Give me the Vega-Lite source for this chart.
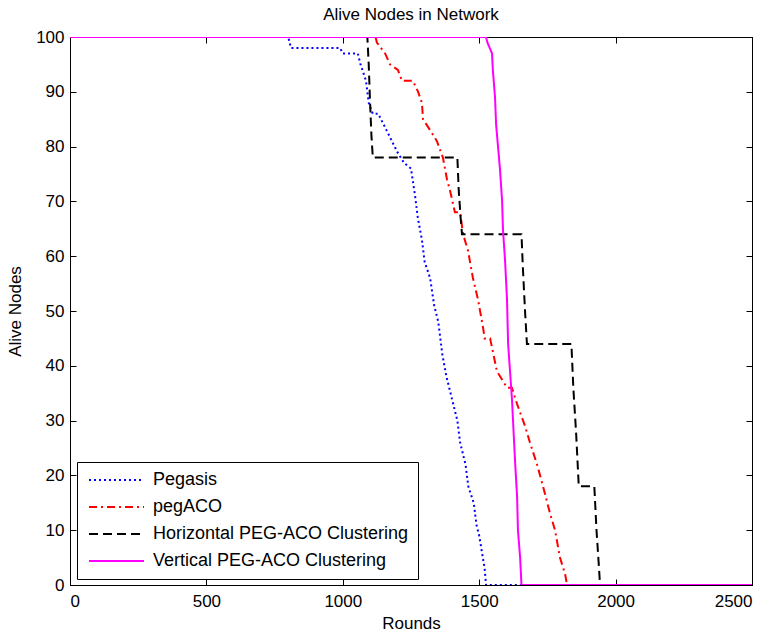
{
  "$schema": "https://vega.github.io/schema/vega-lite/v6.json",
  "width": 682,
  "height": 548,
  "autosize": {"type": "none"},
  "padding": {"left": 70, "top": 37, "right": 20, "bottom": 47},
  "background": "white",
  "title": {
    "text": "Alive Nodes in Network",
    "font": "Liberation Sans",
    "fontSize": 17,
    "fontWeight": "normal",
    "color": "black",
    "offset": 4
  },
  "config": {
    "view": {"stroke": "black", "strokeWidth": 1},
    "font": "Liberation Sans",
    "axis": {
      "grid": false,
      "domainColor": "black",
      "tickColor": "black",
      "tickSize": -6,
      "labelFont": "Liberation Sans",
      "labelFontSize": 17,
      "labelColor": "black",
      "titleFont": "Liberation Sans",
      "titleFontSize": 17,
      "titleFontWeight": "normal",
      "titleColor": "black"
    }
  },
  "datasets": {
    "nodes": [
      {"series": "Pegasis", "round": 0, "alive": 100},
      {"series": "Pegasis", "round": 800, "alive": 100},
      {"series": "Pegasis", "round": 810, "alive": 98},
      {"series": "Pegasis", "round": 990, "alive": 98},
      {"series": "Pegasis", "round": 1000, "alive": 97},
      {"series": "Pegasis", "round": 1055, "alive": 97},
      {"series": "Pegasis", "round": 1065, "alive": 95},
      {"series": "Pegasis", "round": 1085, "alive": 92},
      {"series": "Pegasis", "round": 1095, "alive": 88},
      {"series": "Pegasis", "round": 1110, "alive": 86},
      {"series": "Pegasis", "round": 1130, "alive": 86},
      {"series": "Pegasis", "round": 1160, "alive": 83},
      {"series": "Pegasis", "round": 1200, "alive": 79},
      {"series": "Pegasis", "round": 1225, "alive": 77},
      {"series": "Pegasis", "round": 1250, "alive": 76},
      {"series": "Pegasis", "round": 1265, "alive": 71},
      {"series": "Pegasis", "round": 1275, "alive": 67},
      {"series": "Pegasis", "round": 1290, "alive": 63},
      {"series": "Pegasis", "round": 1300, "alive": 59},
      {"series": "Pegasis", "round": 1320, "alive": 56},
      {"series": "Pegasis", "round": 1335, "alive": 51},
      {"series": "Pegasis", "round": 1350, "alive": 48},
      {"series": "Pegasis", "round": 1365, "alive": 42},
      {"series": "Pegasis", "round": 1380, "alive": 38},
      {"series": "Pegasis", "round": 1400, "alive": 34},
      {"series": "Pegasis", "round": 1420, "alive": 30},
      {"series": "Pegasis", "round": 1430, "alive": 26},
      {"series": "Pegasis", "round": 1440, "alive": 24},
      {"series": "Pegasis", "round": 1450, "alive": 22},
      {"series": "Pegasis", "round": 1460, "alive": 18},
      {"series": "Pegasis", "round": 1480, "alive": 15},
      {"series": "Pegasis", "round": 1490, "alive": 11},
      {"series": "Pegasis", "round": 1500, "alive": 9},
      {"series": "Pegasis", "round": 1510, "alive": 6},
      {"series": "Pegasis", "round": 1520, "alive": 3},
      {"series": "Pegasis", "round": 1525, "alive": 0},
      {"series": "Pegasis", "round": 2500, "alive": 0},

      {"series": "pegACO", "round": 0, "alive": 100},
      {"series": "pegACO", "round": 1120, "alive": 100},
      {"series": "pegACO", "round": 1125, "alive": 99},
      {"series": "pegACO", "round": 1155, "alive": 97},
      {"series": "pegACO", "round": 1173, "alive": 95},
      {"series": "pegACO", "round": 1202, "alive": 94},
      {"series": "pegACO", "round": 1217, "alive": 92},
      {"series": "pegACO", "round": 1257, "alive": 92},
      {"series": "pegACO", "round": 1276, "alive": 90},
      {"series": "pegACO", "round": 1290, "alive": 88},
      {"series": "pegACO", "round": 1294, "alive": 85},
      {"series": "pegACO", "round": 1320, "alive": 83},
      {"series": "pegACO", "round": 1345, "alive": 81},
      {"series": "pegACO", "round": 1367, "alive": 78},
      {"series": "pegACO", "round": 1382, "alive": 74},
      {"series": "pegACO", "round": 1393, "alive": 72},
      {"series": "pegACO", "round": 1411, "alive": 68},
      {"series": "pegACO", "round": 1430, "alive": 68},
      {"series": "pegACO", "round": 1441, "alive": 64},
      {"series": "pegACO", "round": 1459, "alive": 61},
      {"series": "pegACO", "round": 1477, "alive": 56},
      {"series": "pegACO", "round": 1496, "alive": 52},
      {"series": "pegACO", "round": 1514, "alive": 47},
      {"series": "pegACO", "round": 1520, "alive": 45},
      {"series": "pegACO", "round": 1540, "alive": 45},
      {"series": "pegACO", "round": 1565, "alive": 39},
      {"series": "pegACO", "round": 1602, "alive": 36},
      {"series": "pegACO", "round": 1620, "alive": 36},
      {"series": "pegACO", "round": 1639, "alive": 33},
      {"series": "pegACO", "round": 1668, "alive": 29},
      {"series": "pegACO", "round": 1686, "alive": 26},
      {"series": "pegACO", "round": 1712, "alive": 22},
      {"series": "pegACO", "round": 1734, "alive": 18},
      {"series": "pegACO", "round": 1760, "alive": 13},
      {"series": "pegACO", "round": 1778, "alive": 10},
      {"series": "pegACO", "round": 1796, "alive": 5},
      {"series": "pegACO", "round": 1815, "alive": 2},
      {"series": "pegACO", "round": 1822, "alive": 0},
      {"series": "pegACO", "round": 2500, "alive": 0},

      {"series": "Horizontal PEG-ACO Clustering", "round": 0, "alive": 100},
      {"series": "Horizontal PEG-ACO Clustering", "round": 1090, "alive": 100},
      {"series": "Horizontal PEG-ACO Clustering", "round": 1095, "alive": 95},
      {"series": "Horizontal PEG-ACO Clustering", "round": 1100, "alive": 88},
      {"series": "Horizontal PEG-ACO Clustering", "round": 1105, "alive": 82},
      {"series": "Horizontal PEG-ACO Clustering", "round": 1110, "alive": 78},
      {"series": "Horizontal PEG-ACO Clustering", "round": 1420, "alive": 78},
      {"series": "Horizontal PEG-ACO Clustering", "round": 1425, "alive": 72},
      {"series": "Horizontal PEG-ACO Clustering", "round": 1432, "alive": 67},
      {"series": "Horizontal PEG-ACO Clustering", "round": 1437, "alive": 64},
      {"series": "Horizontal PEG-ACO Clustering", "round": 1655, "alive": 64},
      {"series": "Horizontal PEG-ACO Clustering", "round": 1660, "alive": 58},
      {"series": "Horizontal PEG-ACO Clustering", "round": 1668, "alive": 50},
      {"series": "Horizontal PEG-ACO Clustering", "round": 1675, "alive": 44},
      {"series": "Horizontal PEG-ACO Clustering", "round": 1838, "alive": 44},
      {"series": "Horizontal PEG-ACO Clustering", "round": 1845, "alive": 36},
      {"series": "Horizontal PEG-ACO Clustering", "round": 1855, "alive": 28},
      {"series": "Horizontal PEG-ACO Clustering", "round": 1865, "alive": 18},
      {"series": "Horizontal PEG-ACO Clustering", "round": 1922, "alive": 18},
      {"series": "Horizontal PEG-ACO Clustering", "round": 1930, "alive": 10},
      {"series": "Horizontal PEG-ACO Clustering", "round": 1938, "alive": 4},
      {"series": "Horizontal PEG-ACO Clustering", "round": 1943, "alive": 0},
      {"series": "Horizontal PEG-ACO Clustering", "round": 2500, "alive": 0},

      {"series": "Vertical PEG-ACO Clustering", "round": 0, "alive": 100},
      {"series": "Vertical PEG-ACO Clustering", "round": 1525, "alive": 100},
      {"series": "Vertical PEG-ACO Clustering", "round": 1530, "alive": 99},
      {"series": "Vertical PEG-ACO Clustering", "round": 1547, "alive": 97},
      {"series": "Vertical PEG-ACO Clustering", "round": 1550, "alive": 94},
      {"series": "Vertical PEG-ACO Clustering", "round": 1558, "alive": 89},
      {"series": "Vertical PEG-ACO Clustering", "round": 1562, "alive": 84},
      {"series": "Vertical PEG-ACO Clustering", "round": 1569, "alive": 80},
      {"series": "Vertical PEG-ACO Clustering", "round": 1576, "alive": 76},
      {"series": "Vertical PEG-ACO Clustering", "round": 1584, "alive": 70},
      {"series": "Vertical PEG-ACO Clustering", "round": 1587, "alive": 65},
      {"series": "Vertical PEG-ACO Clustering", "round": 1595, "alive": 59},
      {"series": "Vertical PEG-ACO Clustering", "round": 1602, "alive": 52},
      {"series": "Vertical PEG-ACO Clustering", "round": 1606, "alive": 44},
      {"series": "Vertical PEG-ACO Clustering", "round": 1620, "alive": 34},
      {"series": "Vertical PEG-ACO Clustering", "round": 1631, "alive": 23},
      {"series": "Vertical PEG-ACO Clustering", "round": 1639, "alive": 16},
      {"series": "Vertical PEG-ACO Clustering", "round": 1642, "alive": 10},
      {"series": "Vertical PEG-ACO Clustering", "round": 1650, "alive": 5},
      {"series": "Vertical PEG-ACO Clustering", "round": 1655, "alive": 0},
      {"series": "Vertical PEG-ACO Clustering", "round": 2500, "alive": 0}
    ]
  },
  "data": {"name": "nodes"},
  "layer": [
    {
      "mark": {"type": "line", "clip": true, "strokeCap": "butt"},
      "encoding": {
        "x": {
          "field": "round",
          "type": "quantitative",
          "scale": {"domain": [0, 2500], "nice": false, "zero": false},
          "axis": {"title": "Rounds", "format": "d", "values": [0, 500, 1000, 1500, 2000, 2500], "titlePadding": 6, "labelPadding": 14}
        },
        "y": {
          "field": "alive",
          "type": "quantitative",
          "scale": {"domain": [0, 100], "nice": false},
          "axis": {"title": "Alive Nodes", "format": "d", "values": [0, 10, 20, 30, 40, 50, 60, 70, 80, 90, 100], "titlePadding": 11, "labelPadding": 12}
        },
        "order": {"field": "round", "type": "quantitative"},
        "color": {
          "field": "series",
          "type": "nominal",
          "scale": {
            "domain": ["Pegasis", "pegACO", "Horizontal PEG-ACO Clustering", "Vertical PEG-ACO Clustering"],
            "range": ["#0000ff", "#ff0000", "#000000", "#ff00ff"]
          },
          "legend": {
            "title": null,
            "orient": "none",
            "legendX": 7,
            "legendY": 425,
            "strokeColor": "black",
            "fillColor": "white",
            "padding": 9,
            "cornerRadius": 0,
            "symbolType": "stroke",
            "symbolSize": 3025,
            "symbolOffset": 2,
            "clipHeight": 18,
            "labelFont": "Liberation Sans",
            "labelFontSize": 18,
            "labelColor": "black",
            "labelOffset": 8,
            "rowPadding": 9,
            "labelLimit": 400
          }
        },
        "strokeDash": {
          "field": "series",
          "type": "nominal",
          "scale": {
            "domain": ["Pegasis", "pegACO", "Horizontal PEG-ACO Clustering", "Vertical PEG-ACO Clustering"],
            "range": [[2, 3], [8, 4, 2, 4], [9, 5], [1, 0]]
          }
        },
        "strokeWidth": {
          "field": "series",
          "type": "nominal",
          "scale": {
            "domain": ["Pegasis", "pegACO", "Horizontal PEG-ACO Clustering", "Vertical PEG-ACO Clustering"],
            "range": [2, 2, 2, 2.5]
          }
        }
      }
    },
    {
      "mark": {"type": "point", "opacity": 0},
      "encoding": {
        "x": {
          "field": "round",
          "type": "quantitative",
          "axis": {"orient": "top", "labels": false, "title": null, "values": [0, 500, 1000, 1500, 2000, 2500]}
        },
        "y": {
          "field": "alive",
          "type": "quantitative",
          "axis": {"orient": "right", "labels": false, "title": null, "values": [0, 10, 20, 30, 40, 50, 60, 70, 80, 90, 100]}
        }
      }
    }
  ],
  "resolve": {"axis": {"x": "independent", "y": "independent"}}
}
